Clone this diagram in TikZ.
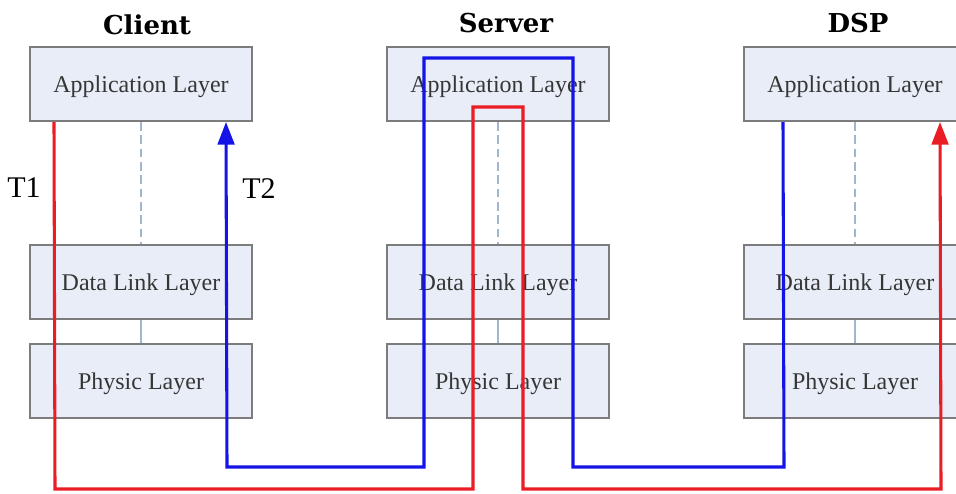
\documentclass[tikz,border=0pt]{standalone}
\usepackage{fontspec}
\setmainfont{Liberation Serif}
\newfontfamily\titlefont{DejaVu Serif}
\usetikzlibrary{arrows.meta,calc}
\definecolor{boxfill}{HTML}{E8EDF7}
\definecolor{boxline}{HTML}{7C7C7C}
\definecolor{boxtext}{HTML}{363636}
\definecolor{linkline}{HTML}{9FB6CF}
\definecolor{flowred}{HTML}{EA1C24}
\definecolor{flowblue}{HTML}{1414E6}
\tikzset{
  layer/.style={draw=boxline, fill=boxfill, line width=1.5pt,
    minimum width=166.5pt, minimum height=55.5pt, inner sep=0pt,
    text height=12pt, text depth=0pt,
    text=boxtext, font=\fontsize{18}{20}\selectfont},
  heading/.style={font=\titlefont\bfseries\fontsize{19.5}{22}\selectfont, text=black},
  tlabel/.style={font=\fontsize{22.5}{25}\selectfont, text=black},
  dashlink/.style={draw=linkline, line width=1.5pt, dash pattern=on 6.5pt off 3.5pt},
  solidlink/.style={draw=linkline, line width=1.3pt},
  redflow/.style={draw=flowred, line width=2.3pt, line join=miter},
  blueflow/.style={draw=flowblue, line width=2.3pt, line join=miter},
  flowtip/.style={-{Triangle[length=17pt,width=12.5pt]}}
}
\begin{document}
\begin{tikzpicture}[x=0.75pt, y=-0.75pt]
  \clip (0,0) rectangle (956,493);
  \fill[white] (0,0) rectangle (956,493);

  % column headings
  \node[heading] (hclient) at (147,25) {Client};
  \node[heading] (hserver) at (506,23) {Server};
  \node[heading] (hdsp)    at (858,23) {DSP};

  % protocol stacks
  \foreach \col/\cx in {c/141, s/498, d/855} {
    \node[layer] (\col app) at (\cx,84)  {Application Layer};
    \node[layer] (\col dll) at (\cx,282) {Data Link Layer};
    \node[layer] (\col phy) at (\cx,381) {Physic Layer};
    \draw[dashlink]  (\col app.south) -- (\col dll.north);
    \draw[solidlink] (\col dll.south) -- (\col phy.north);
  }

  % timing labels
  \node[tlabel] (t1) at (24,188) {T1};
  \node[tlabel] (t2) at (259,189) {T2};

  % request path: client -> server -> DSP
  \draw[redflow, flowtip]
    ($(capp.south west)+(25,0)$) -- (55,489) -- (473,489) -- (473,107)
    -- (523,107) -- (523,489) -- (941,489) -- ($(dapp.south west)+(197,0)$);

  % reply path: DSP -> server -> client
  \draw[blueflow, flowtip]
    ($(dapp.south west)+(40,0)$) -- (784,467) -- (573,467) -- (573,58)
    -- (424,58) -- (424,467) -- (227,467) -- ($(capp.south west)+(197,0)$);
\end{tikzpicture}
\end{document}
